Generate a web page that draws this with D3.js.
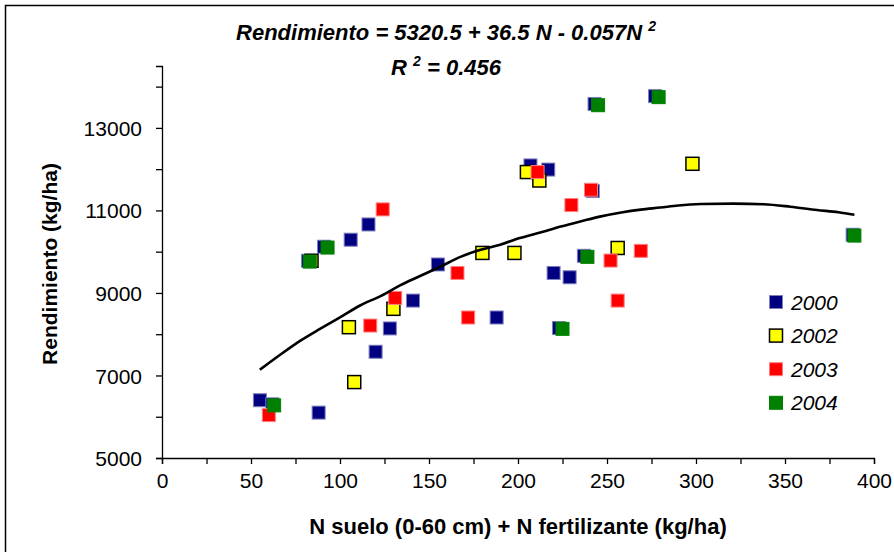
<!DOCTYPE html>
<html>
<head>
<meta charset="utf-8">
<script src="https://cdn.jsdelivr.net/npm/d3@7"></script>
<style>
    body { margin: 0; background: #fff; }
    svg { display: block; font-family: "Liberation Sans", Arial, sans-serif; }
</style>
</head>
<body>
<svg id="chart" width="894" height="552"></svg>
<script>
// data: [N (kg/ha), rendimiento (kg/ha)]
var years = ["2000", "2002", "2003", "2004"];
var s2000 = [[55, 6400], [62, 6300], [88, 6100], [82, 9780], [91, 10120], [106, 10290], [116, 10660],
    [120, 7575], [128, 8140], [141, 8815], [155, 9690], [188, 8405], [207, 12090], [217, 11990],
    [220, 9485], [229, 9380], [223, 8150], [237, 9900], [242, 11470], [243, 13580], [277, 13770], [388, 10410]];
var s2002 = [[84, 9780], [105, 8170], [108, 6840], [130, 8615], [180, 9970], [198, 9970],
    [205, 11930], [212, 11725], [256, 10090], [298, 12130]];
var s2003 = [[60, 6040], [117, 8210], [124, 11025], [131, 8880], [166, 9485], [172, 8405],
    [211, 11930], [230, 11130], [241, 11500], [252, 9785], [256, 8815], [269, 10020]];
var s2004 = [[63, 6275], [83, 9760], [93, 10100], [225, 8130], [239, 9875], [245, 13550], [279, 13745], [389, 10390]];

// trend curve
var trendN = [55, 66, 78, 89, 100, 111, 123, 134, 145, 156, 168, 179, 190, 201, 213, 224, 235, 246,
    258, 269, 280, 290, 303, 321, 338, 353, 368, 380, 389];
var trendY = [7140, 7490, 7850, 8135, 8410, 8690, 8930, 9190, 9410, 9630, 9880, 10045, 10170, 10330,
    10470, 10610, 10730, 10850, 10950, 11020, 11070, 11120, 11155, 11165, 11150, 11090, 11010, 10955, 10895];

var xLabels = [0, 50, 100, 150, 200, 250, 300, 350, 400];
var yLabels = [5000, 7000, 9000, 11000, 13000];

var colors = { "2000": "#000080", "2002": "#ffff00", "2003": "#ff0000", "2004": "#008000" };
var strokes = { "2000": "#7f7fbf", "2002": "#000000", "2003": "#ff7f7f", "2004": "#008000" };
var series = { "2000": s2000, "2002": s2002, "2003": s2003, "2004": s2004 };

var svg = d3.select("#chart");

var margin = { left: 162, right: 20, top: 66, bottom: 94 },
    width = 894 - margin.left - margin.right,
    height = 552 - margin.top - margin.bottom;

// chart area border
svg.append("rect")
    .attr("x", 5.5)
    .attr("y", 5.5)
    .attr("width", 900)
    .attr("height", 600)
    .attr("fill", "none")
    .attr("stroke", "#000")
    .attr("stroke-width", 1.5);

var x = d3.scaleLinear().domain([0, 400]).range([0, width]);
var y = d3.scaleLinear().domain([5000, 14500]).range([height, 0]);

var g = svg.append("g").attr("transform", "translate(" + margin.left + "," + margin.top + ")");

var xAxis = d3.axisBottom(x)
    .tickValues(d3.range(0, 401, 25))
    .tickSize(6)
    .tickPadding(9)
    .tickFormat(function (d) { return xLabels.indexOf(d) >= 0 ? d : ""; });

var yAxis = d3.axisLeft(y)
    .tickValues(d3.range(5000, 14001, 1000))
    .tickSize(6)
    .tickPadding(14)
    .tickFormat(function (d) { return yLabels.indexOf(d) >= 0 ? d : ""; });

var gx = g.append("g").attr("transform", "translate(0," + height + ")").call(xAxis);
var gy = g.append("g").call(yAxis);

[gx, gy].forEach(function (a) {
    a.select(".domain").attr("stroke", "#000").attr("stroke-width", 1.3);
    a.selectAll(".tick line").attr("stroke", "#000").attr("stroke-width", 1.3);
    a.selectAll(".tick text")
        .attr("fill", "#000")
        .style("font-size", "21px")
        .style("font-family", "'Liberation Sans', Arial, sans-serif");
});
gy.selectAll(".tick text").attr("dy", "0.36em");

// markers, series order as in the original
years.forEach(function (yr) {
    g.append("g")
        .selectAll("rect")
        .data(series[yr])
        .enter().append("rect")
        .attr("x", function (d) { return x(d[0]) - 6.5; })
        .attr("y", function (d) { return y(d[1]) - 6.5; })
        .attr("width", 13)
        .attr("height", 13)
        .attr("fill", colors[yr])
        .attr("stroke", strokes[yr])
        .attr("stroke-width", yr == "2002" ? 1.5 : 1);
});

// trend line
var line = d3.line()
    .x(function (d, i) { return x(trendN[i]); })
    .y(function (d, i) { return y(trendY[i]); })
    .curve(d3.curveMonotoneX);

g.append("path")
    .datum(trendN)
    .attr("d", line)
    .attr("fill", "none")
    .attr("stroke", "#000")
    .attr("stroke-width", 2.6);

// legend
var legend = svg.append("g").attr("transform", "translate(776,302)");
years.forEach(function (yr, i) {
    var row = legend.append("g").attr("transform", "translate(0," + (i * 33.6) + ")");
    row.append("rect")
        .attr("x", -6.5)
        .attr("y", -6.5)
        .attr("width", 13)
        .attr("height", 13)
        .attr("fill", colors[yr])
        .attr("stroke", strokes[yr])
        .attr("stroke-width", yr == "2002" ? 1.5 : 1);
    row.append("text")
        .attr("x", 15)
        .attr("y", 7.5)
        .style("font-size", "21px")
        .style("font-style", "italic")
        .text(yr);
});

// title / equation
var t1 = svg.append("text")
    .attr("x", 446)
    .attr("y", 40)
    .attr("text-anchor", "middle")
    .style("font-size", "22px")
    .style("font-weight", "bold")
    .style("font-style", "italic");
t1.append("tspan").text("Rendimiento = 5320.5 + 36.5 N - 0.057N ");
t1.append("tspan").attr("dy", -9).style("font-size", "14px").text("2");

var t2 = svg.append("text")
    .attr("x", 446)
    .attr("y", 75)
    .attr("text-anchor", "middle")
    .style("font-size", "22px")
    .style("font-weight", "bold")
    .style("font-style", "italic");
t2.append("tspan").text("R ");
t2.append("tspan").attr("dy", -9).style("font-size", "14px").text("2");
t2.append("tspan").attr("dy", 9).text(" = 0.456");

// axis titles
svg.append("text")
    .attr("x", 518)
    .attr("y", 534)
    .attr("text-anchor", "middle")
    .style("font-size", "22px")
    .style("font-weight", "bold")
    .text("N suelo (0-60 cm) + N fertilizante (kg/ha)");

svg.append("text")
    .attr("transform", "translate(57,264) rotate(-90)")
    .attr("text-anchor", "middle")
    .style("font-size", "21px")
    .style("font-weight", "bold")
    .text("Rendimiento (kg/ha)");
</script>
</body>
</html>
